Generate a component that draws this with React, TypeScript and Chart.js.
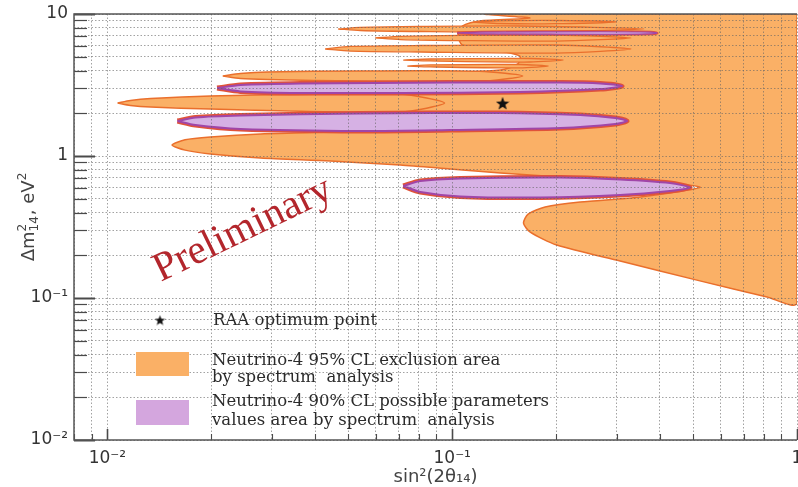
import React, { useEffect, useRef } from 'react';
import { Chart, registerables } from 'chart.js';

Chart.register(...registerables);

type Pair = [number, number];

// Axis ranges: sin²(2θ14) and Δm²14 [eV²]
const xRange: Pair = [0.008, 1];
const yRange: Pair = [0.01, 10];

// Decade labels
const xMajor = [0.01, 0.1, 1];
const xMajorText = ['10⁻²', '10⁻¹', '1'];
const yMajor = [0.01, 0.1, 1, 10];
const yMajorText = ['10⁻²', '10⁻¹', '1', '10'];

const xTitle = 'sin²(2θ₁₄)';
// y title pieces: base, stacked superscript / subscript, tail, superscript
const yTitleParts = { base: 'Δm', sup: '2', sub: '14', tail: ', eV', tailSup: '2' };

// RAA optimum point
const raaOptimum: Pair = [0.14, 2.36];

// Neutrino-4 95% CL exclusion area: main body with the 1 eV² tongue and the low-Δm² lobe
const exclusionMain: Pair[] = [
  [1, 10], [0.125, 10], [0.168, 9.37], [0.12, 8.93], [0.107, 8.23], [0.104, 7.0],
  [0.107, 6.05], [0.138, 5.49], [0.157, 5.06], [0.155, 4.45], [0.138, 4.03],
  [0.054, 3.54], [0.041, 3.32], [0.04, 3.01], [0.0414, 2.73], [0.0443, 2.04],
  [0.0458, 1.57], [0.0443, 1.48], [0.0278, 1.43], [0.0199, 1.36], [0.0168, 1.3],
  [0.0154, 1.195], [0.0168, 1.1], [0.0199, 1.033], [0.0278, 0.968], [0.0443, 0.922],
  [0.0707, 0.864], [0.0987, 0.81], [0.138, 0.759], [0.186, 0.723], [0.307, 0.678],
  [0.523, 0.605], [0.351, 0.514], [0.235, 0.474], [0.186, 0.437], [0.166, 0.39],
  [0.161, 0.337], [0.168, 0.292], [0.201, 0.236], [0.307, 0.182], [0.523, 0.132],
  [0.819, 0.1016], [1, 0.0922], [1, 10],
];

// Exclusion tongues reaching to smaller mixing
const tongue88: Pair[] = [
  [0.115, 8.78], [0.138, 8.95], [0.2, 9.0], [0.3, 8.8], [0.2, 8.55], [0.138, 8.57], [0.115, 8.78],
];
const tongue78: Pair[] = [
  [0.0467, 7.84], [0.0541, 8.04], [0.0808, 8.17], [0.157, 8.23], [0.36, 7.85],
  [0.157, 7.47], [0.0808, 7.53], [0.0541, 7.65], [0.0467, 7.84],
];
const tongue68: Pair[] = [
  [0.0598, 6.78], [0.0707, 6.95], [0.1055, 7.07], [0.2, 7.1], [0.33, 6.78],
  [0.2, 6.45], [0.1055, 6.5], [0.0707, 6.61], [0.0598, 6.78],
];
const tongue57: Pair[] = [
  [0.0428, 5.67], [0.0506, 5.91], [0.0808, 6.0], [0.2, 6.05], [0.33, 5.67],
  [0.2, 5.31], [0.0808, 5.4], [0.0506, 5.48], [0.0428, 5.67],
];
const tongue47: Pair[] = [
  [0.0721, 4.74], [0.0863, 4.82], [0.168, 4.86], [0.21, 4.74], [0.168, 4.59], [0.0863, 4.67], [0.0721, 4.74],
];
const tongue43: Pair[] = [
  [0.0741, 4.3], [0.0863, 4.38], [0.157, 4.41], [0.19, 4.3], [0.157, 4.17], [0.0863, 4.24], [0.0741, 4.3],
];
const tongue37: Pair[] = [
  [0.0216, 3.66], [0.0243, 3.81], [0.0291, 3.91], [0.0541, 3.97], [0.12, 3.95], [0.16, 3.66],
  [0.12, 3.35], [0.0541, 3.37], [0.0291, 3.46], [0.0243, 3.52], [0.0216, 3.66],
];
const tongue24: Pair[] = [
  [0.0107, 2.36], [0.01166, 2.46], [0.01334, 2.54], [0.0199, 2.65], [0.0363, 2.71],
  [0.0707, 2.73], [0.095, 2.36], [0.0707, 2.04], [0.0363, 2.07], [0.0199, 2.14],
  [0.01334, 2.21], [0.01166, 2.27], [0.0107, 2.36],
];

// Neutrino-4 90% CL possible parameter areas
const allowed73: Pair[] = [
  [0.1033, 7.35], [0.1205, 7.45], [0.269, 7.5], [0.375, 7.45], [0.393, 7.35],
  [0.375, 7.25], [0.269, 7.2], [0.1205, 7.25], [0.1033, 7.35],
];
const allowed30: Pair[] = [
  [0.0208, 3.01], [0.0243, 3.16], [0.0363, 3.24], [0.0987, 3.29], [0.206, 3.29],
  [0.269, 3.24], [0.311, 3.11], [0.269, 2.96], [0.157, 2.82], [0.0707, 2.78],
  [0.0363, 2.78], [0.0243, 2.85], [0.0208, 3.01],
];
const allowed18: Pair[] = [
  [0.01596, 1.764], [0.018, 1.867], [0.0243, 1.928], [0.0541, 1.992], [0.138, 2.01],
  [0.235, 1.944], [0.297, 1.854], [0.3215, 1.764], [0.297, 1.68], [0.206, 1.574],
  [0.0987, 1.525], [0.0541, 1.5], [0.0243, 1.55], [0.018, 1.653], [0.01596, 1.764],
];
const allowed06: Pair[] = [
  [0.0721, 0.615], [0.0808, 0.667], [0.1055, 0.695], [0.206, 0.706], [0.307, 0.683],
  [0.428, 0.645], [0.49, 0.6], [0.428, 0.567], [0.307, 0.531], [0.18, 0.51],
  [0.1055, 0.519], [0.0808, 0.558], [0.0721, 0.615],
];

const legendStarText = 'RAA optimum point';
const legendExclusionText = ['Neutrino-4 95% CL exclusion area', 'by spectrum  analysis'];
const legendAllowedText = ['Neutrino-4 90% CL possible parameters', 'values area by spectrum  analysis'];
const watermarkText = 'Preliminary';

const ORANGE = '#fab066';
const ORANGE_EDGE = '#ea6f2c';
const RIM = '#e0533a';
const PURPLE = '#d6b1e4';
const PURPLE_EDGE = '#a046a8';

const isDecade = (v: number) => Math.abs(Math.log10(v) - Math.round(Math.log10(v))) < 1e-6;

// 1..9 × 10^n grid values inside [lo, hi]
const gridValues = (lo: number, hi: number) => {
  const out: number[] = [];
  for (let e = Math.floor(Math.log10(lo)); e <= Math.ceil(Math.log10(hi)); e++) {
    for (let m = 1; m <= 9; m++) {
      const v = +(m * Math.pow(10, e)).toPrecision(6);
      if (v >= lo * 0.9999 && v <= hi * 1.0001) out.push(v);
    }
  }
  return out;
};

const labelFor = (value: number, majors: number[], texts: string[]) => {
  const i = majors.findIndex((t) => Math.abs(Math.log10(t) - Math.log10(value)) < 1e-6);
  return i >= 0 ? texts[i] : '';
};

const makeStar = (size: number, color: string) => {
  const c = document.createElement('canvas');
  c.width = size;
  c.height = size;
  const g = c.getContext('2d')!;
  g.fillStyle = color;
  g.beginPath();
  const cx = size / 2;
  const cy = size / 2 + size * 0.06;
  const R = size / 2;
  const r = R * 0.42;
  for (let i = 0; i < 10; i++) {
    const a = -Math.PI / 2 + (i * Math.PI) / 5;
    const rad = i % 2 === 0 ? R : r;
    g.lineTo(cx + rad * Math.cos(a), cy + rad * Math.sin(a));
  }
  g.closePath();
  g.fill();
  return c;
};

const toXY = (pts: Pair[]) => pts.map(([x, y]) => ({ x, y }));

const polygon = (pts: Pair[], fill: string, edge: string, width: number, order: number) => ({
  data: toXY(pts),
  showLine: true,
  fill: 'shape',
  backgroundColor: fill,
  borderColor: edge,
  borderWidth: width,
  pointRadius: 0,
  pointHoverRadius: 0,
  tension: 0.25,
  order,
});

// Frame, inward ticks, y title, watermark and the in-plot legend
const makeOverlay = (legendStar: HTMLCanvasElement) => ({
  id: 'overlay',
  afterDraw(chart: any) {
    const { ctx, chartArea: a, scales } = chart;
    const xs = scales.x;
    const ys = scales.y;
    ctx.save();

    ctx.strokeStyle = '#4a4a4a';
    for (const t of ys.ticks) {
      const y = Math.round(ys.getPixelForValue(t.value)) + 0.5;
      const major = isDecade(t.value);
      ctx.lineWidth = major ? 2 : 1.2;
      ctx.beginPath();
      ctx.moveTo(a.left, y);
      ctx.lineTo(a.left + (major ? 21 : 13), y);
      ctx.stroke();
    }
    for (const t of xs.ticks) {
      const x = Math.round(xs.getPixelForValue(t.value)) + 0.5;
      const major = isDecade(t.value);
      ctx.lineWidth = major ? 1.6 : 1.1;
      ctx.beginPath();
      ctx.moveTo(x, a.bottom);
      ctx.lineTo(x, a.bottom - (major ? 11 : 6));
      ctx.stroke();
    }

    ctx.strokeStyle = '#555';
    ctx.lineWidth = 1.5;
    ctx.beginPath();
    ctx.moveTo(a.right, a.top);
    ctx.lineTo(a.left, a.top);
    ctx.lineTo(a.left, a.bottom);
    ctx.lineTo(a.right, a.bottom);
    ctx.stroke();

    // y axis title with stacked indices
    ctx.save();
    ctx.translate(34, 217);
    ctx.rotate(-Math.PI / 2);
    ctx.fillStyle = '#444';
    ctx.textBaseline = 'alphabetic';
    ctx.textAlign = 'left';
    const big = '18px "DejaVu Sans", sans-serif';
    const small = '12px "DejaVu Sans", sans-serif';
    ctx.font = big;
    const wBase = ctx.measureText(yTitleParts.base).width;
    const wTail = ctx.measureText(yTitleParts.tail).width;
    ctx.font = small;
    const wIdx = Math.max(ctx.measureText(yTitleParts.sup).width, ctx.measureText(yTitleParts.sub).width);
    const wTailSup = ctx.measureText(yTitleParts.tailSup).width;
    const total = wBase + wIdx + 1 + wTail + wTailSup;
    let cx = -total / 2;
    ctx.font = big;
    ctx.fillText(yTitleParts.base, cx, 0);
    cx += wBase;
    ctx.font = small;
    ctx.fillText(yTitleParts.sup, cx, -8);
    ctx.fillText(yTitleParts.sub, cx, 4);
    cx += wIdx + 1;
    ctx.font = big;
    ctx.fillText(yTitleParts.tail, cx, 0);
    cx += wTail;
    ctx.font = small;
    ctx.fillText(yTitleParts.tailSup, cx, -8);
    ctx.restore();

    ctx.save();
    ctx.translate(243, 230);
    ctx.rotate((-26 * Math.PI) / 180);
    ctx.font = '41px "Liberation Serif", serif';
    ctx.fillStyle = '#b3262c';
    ctx.textAlign = 'center';
    ctx.textBaseline = 'middle';
    ctx.fillText(watermarkText, 0, 0);
    ctx.restore();

    ctx.drawImage(legendStar, 160 - legendStar.width / 2, 320 - legendStar.height / 2);
    ctx.font = '16.5px "DejaVu Serif", serif';
    ctx.fillStyle = '#2b2b2b';
    ctx.textAlign = 'left';
    ctx.textBaseline = 'middle';
    ctx.fillText(legendStarText, 213, 321);

    ctx.fillStyle = ORANGE;
    ctx.fillRect(136, 352, 53, 24);
    ctx.fillStyle = '#d4a6de';
    ctx.fillRect(136, 400, 53, 25);

    ctx.fillStyle = '#2b2b2b';
    ctx.fillText(legendExclusionText[0], 212, 361);
    ctx.fillText(legendExclusionText[1], 212, 378);
    ctx.fillText(legendAllowedText[0], 212, 402);
    ctx.fillText(legendAllowedText[1], 212, 421);

    ctx.restore();
  },
});

export default function App() {
  const ref = useRef<HTMLCanvasElement | null>(null);

  useEffect(() => {
    const canvas = ref.current;
    if (!canvas) return;
    const plotStar = makeStar(14, '#111');
    const legendStar = makeStar(11, '#111');

    const tickFont = { family: '"DejaVu Sans", sans-serif', size: 17 };
    const titleFont = { family: '"DejaVu Sans", sans-serif', size: 18 };

    const chart: any = new Chart(canvas, {
      type: 'scatter',
      data: {
        datasets: [
          {
            data: toXY([raaOptimum]),
            pointStyle: plotStar,
            pointRadius: 7,
            pointHoverRadius: 7,
            order: 0,
          } as any,
          polygon(allowed73, PURPLE, PURPLE_EDGE, 1.2, 1),
          polygon(allowed30, PURPLE, PURPLE_EDGE, 2, 1),
          polygon(allowed18, PURPLE, PURPLE_EDGE, 2, 1),
          polygon(allowed06, PURPLE, PURPLE_EDGE, 2, 1),
          polygon(allowed73, ORANGE, RIM, 3, 2),
          polygon(allowed30, ORANGE, RIM, 5, 2),
          polygon(allowed18, ORANGE, RIM, 5, 2),
          polygon(allowed06, ORANGE, RIM, 5, 2),
          polygon(tongue88, ORANGE, ORANGE_EDGE, 1.3, 3),
          polygon(tongue78, ORANGE, ORANGE_EDGE, 1.3, 3),
          polygon(tongue68, ORANGE, ORANGE_EDGE, 1.3, 3),
          polygon(tongue57, ORANGE, ORANGE_EDGE, 1.3, 3),
          polygon(tongue47, ORANGE, ORANGE_EDGE, 1.3, 3),
          polygon(tongue43, ORANGE, ORANGE_EDGE, 1.3, 3),
          polygon(tongue37, ORANGE, ORANGE_EDGE, 1.5, 3),
          polygon(tongue24, ORANGE, ORANGE_EDGE, 1.5, 3),
          polygon(exclusionMain, ORANGE, ORANGE_EDGE, 1.5, 4),
        ] as any,
      },
      options: {
        responsive: false,
        maintainAspectRatio: false,
        devicePixelRatio: 1,
        animation: false,
        events: [],
        layout: { autoPadding: false, padding: { top: 14, right: 1, left: 0, bottom: 0 } },
        plugins: {
          legend: { display: false },
          tooltip: { enabled: false },
        },
        scales: {
          x: {
            type: 'logarithmic',
            min: xRange[0],
            max: xRange[1],
            afterBuildTicks: (s: any) => {
              s.ticks = gridValues(xRange[0], xRange[1]).map((v) => ({ value: v, major: isDecade(v) }));
            },
            afterFit: (s: any) => {
              s.height = 47;
              s.paddingLeft = 0;
              s.paddingRight = 0;
            },
            grid: { color: 'rgba(100,100,100,0.6)', lineWidth: 1, drawTicks: false, z: 1 },
            border: { display: false, dash: [1.5, 2] },
            ticks: {
              autoSkip: false,
              maxRotation: 0,
              padding: 8,
              color: '#333',
              font: tickFont,
              callback: (v: any) => labelFor(Number(v), xMajor, xMajorText),
            },
            title: { display: true, text: xTitle, color: '#444', font: titleFont, padding: { top: 0, bottom: -1 } },
          },
          y: {
            type: 'logarithmic',
            min: yRange[0],
            max: yRange[1],
            afterBuildTicks: (s: any) => {
              s.ticks = gridValues(yRange[0], yRange[1]).map((v) => ({ value: v, major: isDecade(v) }));
            },
            afterFit: (s: any) => {
              s.width = 74;
              s.paddingTop = 0;
              s.paddingBottom = 0;
            },
            grid: { color: 'rgba(100,100,100,0.6)', lineWidth: 1, drawTicks: false, z: 1 },
            border: { display: false, dash: [1.5, 2] },
            ticks: {
              autoSkip: false,
              padding: 6,
              color: '#333',
              font: tickFont,
              callback: (v: any) => labelFor(Number(v), yMajor, yMajorText),
            },
            title: { display: false },
          },
        },
      } as any,
      plugins: [makeOverlay(legendStar)],
    });

    return () => chart.destroy();
  }, []);

  return (
    <div style={{ position: 'absolute', left: 0, top: 0, width: 798, height: 487, background: '#fff' }}>
      <canvas ref={ref} width={798} height={487} style={{ display: 'block', width: 798, height: 487 }} />
    </div>
  );
}
